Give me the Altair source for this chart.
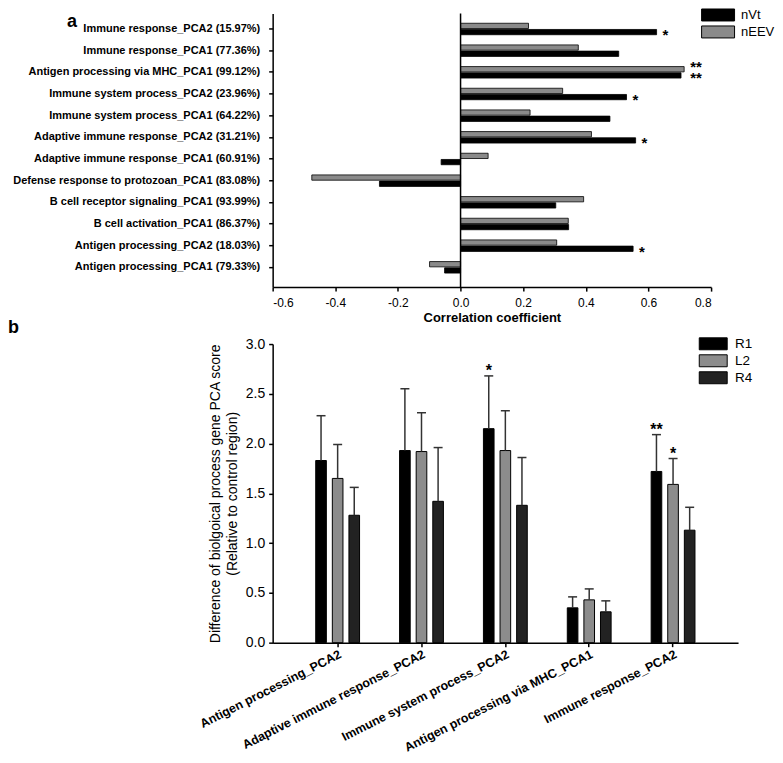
import altair as alt
import pandas as pd

FONT = "Liberation Sans"

# ---------------- Panel a data ----------------
terms = [
    "Immune response_PCA2 (15.97%)",
    "Immune response_PCA1 (77.36%)",
    "Antigen processing via MHC_PCA1 (99.12%)",
    "Immune system process_PCA2 (23.96%)",
    "Immune system process_PCA1 (64.22%)",
    "Adaptive immune response_PCA2 (31.21%)",
    "Adaptive immune response_PCA1 (60.91%)",
    "Defense response to protozoan_PCA1 (83.08%)",
    "B cell receptor signaling_PCA1 (93.99%)",
    "B cell activation_PCA1 (86.37%)",
    "Antigen processing_PCA2 (18.03%)",
    "Antigen processing_PCA1 (79.33%)",
]
nvt = [0.626, 0.505, 0.704, 0.530, 0.477, 0.559, -0.062, -0.259, 0.304, 0.345, 0.551, -0.051]
neev = [0.217, 0.376, 0.714, 0.326, 0.222, 0.418, 0.088, -0.475, 0.393, 0.344, 0.307, -0.099]
nvt_sig = ["*", "", "**", "*", "", "*", "", "", "", "", "*", ""]
neev_sig = ["", "", "**", "", "", "", "", "", "", "", "", ""]
series_a = ["nVt", "nEEV"]
xticks_a = [-0.6, -0.4, -0.2, 0.0, 0.2, 0.4, 0.6, 0.8]

# ---------------- Panel b data ----------------
groups = [
    "Antigen processing_PCA2",
    "Adaptive immune response_PCA2",
    "Immune system process_PCA2",
    "Antigen processing via MHC_PCA1",
    "Immune response_PCA2",
]
regions = ["R1", "L2", "R4"]
r1 = [1.83, 1.93, 2.15, 0.35, 1.72]
r1_up = [2.28, 2.55, 2.68, 0.46, 2.09]
l2 = [1.65, 1.92, 1.93, 0.43, 1.59]
l2_up = [1.99, 2.31, 2.33, 0.54, 1.85]
r4 = [1.28, 1.42, 1.38, 0.31, 1.13]
r4_up = [1.56, 1.96, 1.86, 0.42, 1.36]
r1_sig = ["", "", "*", "", "**"]
l2_sig = ["", "", "", "", "*"]
r4_sig = ["", "", "", "", ""]
yticks_b = [0.0, 0.5, 1.0, 1.5, 2.0, 2.5, 3.0]

# ---------------- tables ----------------
rows_a = []
for t, v1, v2, s1, s2 in zip(terms, nvt, neev, nvt_sig, neev_sig):
    rows_a.append({"term": t, "series": "nVt", "value": v1, "sig": s1})
    rows_a.append({"term": t, "series": "nEEV", "value": v2, "sig": s2})
dfa = pd.DataFrame(rows_a)

# one significance label per term: upper line = nEEV, lower line = nVt
rows_sig = []
for t, v1, v2, s1, s2 in zip(terms, nvt, neev, nvt_sig, neev_sig):
    if s1 or s2:
        rows_sig.append({"term": t, "value": max(v1, v2), "sig": s2 + "\n" + s1})
dfa_sig = pd.DataFrame(rows_sig)

rows_b = []
for i, g in enumerate(groups):
    for reg, vals, ups, sigs in (("R1", r1, r1_up, r1_sig), ("L2", l2, l2_up, l2_sig), ("R4", r4, r4_up, r4_sig)):
        rows_b.append({"group": g, "region": reg, "value": vals[i], "upper": ups[i], "sig": sigs[i]})
dfb = pd.DataFrame(rows_b)
dfb_sig = dfb[dfb["sig"] != ""]

# ---------------- Panel a ----------------
ya = alt.Y(
    "term:N", sort=terms,
    scale=alt.Scale(paddingInner=0.47, paddingOuter=0.55, align=0.41),
    axis=alt.Axis(title=None, labelFontWeight="bold", labelFontSize=11, labelPadding=9,
                  tickSize=4, labelLimit=400),
)
yoff_a = alt.YOffset("series:N", sort=["nEEV", "nVt"], scale=alt.Scale(paddingInner=0.15))
xa = alt.X(
    "value:Q",
    scale=alt.Scale(domain=[-0.6, 0.8], nice=False),
    axis=alt.Axis(values=xticks_a, title="Correlation coefficient", titleFontSize=13,
                  titleFontWeight="bold", labelFontSize=12, labelPadding=6, tickSize=4,
                  titlePadding=3,
                  labelExpr="datum.value < 0 ? '-' + format(-datum.value, '.1f') : format(datum.value, '.1f')"),
)
color_a = alt.Color(
    "series:N",
    scale=alt.Scale(domain=series_a, range=["#000000", "#8a8a8a"]),
    legend=alt.Legend(title=None, orient="none", legendX=439.5, legendY=-5,
                      symbolType="M-2.75,-1H2.75V1H-2.75Z", symbolSize=144,
                      symbolStrokeColor="black", symbolStrokeWidth=1, symbolOpacity=1,
                      labelFontSize=13, labelOffset=16.5, rowPadding=0, padding=0),
)

bars_a = alt.Chart(dfa).mark_bar(stroke="black", strokeWidth=0.8, opacity=1).encode(
    x=xa, y=ya, yOffset=yoff_a, color=color_a
)
zero_a = alt.Chart(pd.DataFrame({"value": [0.0]})).mark_rule(color="black", strokeWidth=1.5).encode(x=xa)
stars_a = alt.Chart(dfa_sig).mark_text(
    align="left", baseline="middle", dx=6, dy=-5, fontSize=15, fontWeight="bold", color="black",
    lineBreak="\n", lineHeight=11
).encode(x=xa, y=ya, text="sig:N")
label_a = alt.Chart(pd.DataFrame({"t": ["a"]})).mark_text(
    align="left", baseline="top", fontSize=18, fontWeight="bold", color="black"
).encode(x=alt.value(-206), y=alt.value(0), text="t:N")

panel_a = alt.layer(bars_a, zero_a, stars_a, label_a).properties(width=439, height=274)

# ---------------- Panel b ----------------
xb = alt.X(
    "group:N", sort=groups,
    scale=alt.Scale(paddingInner=0.41, paddingOuter=0.48),
    axis=alt.Axis(title=None, labelAngle=-27, labelAlign="right", labelBaseline="top",
                  labelFontWeight="bold", labelFontSize=12.5, labelPadding=1, tickSize=4,
                  labelLimit=400),
)
xoff_b = alt.XOffset("region:N", sort=regions, scale=alt.Scale(paddingInner=0.36, paddingOuter=0.17))
yb = alt.Y(
    "value:Q",
    scale=alt.Scale(domain=[0, 3], nice=False),
    axis=alt.Axis(values=yticks_b, format=".1f", labelFontSize=14, labelPadding=4, tickSize=4,
                  title=["Difference of biolgoical process gene PCA score", "(Relative to control region)"],
                  titleFontSize=14, titleFontWeight="normal", titleLineHeight=17, titlePadding=6),
)
color_b = alt.Color(
    "region:N",
    scale=alt.Scale(domain=regions, range=["#000000", "#8c8c8c", "#222222"]),
    legend=alt.Legend(title=None, orient="none", legendX=434.4, legendY=-7,
                      symbolType="M-3.017,-1.293H3.017V1.293H-3.017Z", symbolSize=86,
                      symbolStrokeColor="black", symbolStrokeWidth=1, symbolOpacity=1,
                      labelFontSize=13.5, labelOffset=15, rowPadding=0, padding=0),
)

bars_b = alt.Chart(dfb).mark_bar(stroke="black", strokeWidth=1, opacity=1).encode(
    x=xb, xOffset=xoff_b, y=yb, color=color_b
)
err_b = alt.Chart(dfb).mark_rule(color="#333333", strokeWidth=1.5).encode(
    x=xb, xOffset=xoff_b, y=yb, y2="upper:Q"
)
cap_b = alt.Chart(dfb).mark_tick(color="#333333", thickness=1.5, size=9, opacity=1).encode(
    x=xb, xOffset=xoff_b, y=alt.Y("upper:Q", scale=alt.Scale(domain=[0, 3], nice=False))
)
stars_b = alt.Chart(dfb_sig).mark_text(
    align="center", baseline="alphabetic", dy=0, fontSize=16, fontWeight="bold", color="black"
).encode(x=xb, xOffset=xoff_b, y=alt.Y("upper:Q"), text="sig:N")
label_b = alt.Chart(pd.DataFrame({"t": ["b"]})).mark_text(
    align="left", baseline="alphabetic", fontSize=18, fontWeight="bold", color="black"
).encode(x=alt.value(-265), y=alt.value(-11), text="t:N")

panel_b = alt.layer(bars_b, err_b, cap_b, stars_b, label_b).properties(width=466, height=299)

chart = (
    alt.vconcat(panel_a, panel_b, spacing=57, bounds="flush")
    .resolve_scale(color="independent")
    .properties(padding=0)
    .configure(font=FONT)
    .configure_view(stroke=None)
    .configure_axis(domainColor="black", tickColor="black", labelColor="black", titleColor="black",
                    domainWidth=1.5, tickWidth=1.5, grid=False, labelFont=FONT, titleFont=FONT)
    .configure_legend(labelColor="black", labelFont=FONT)
    .configure_text(font=FONT)
)

chart.save("out.html", embed_options={"renderer": "svg", "actions": False})
